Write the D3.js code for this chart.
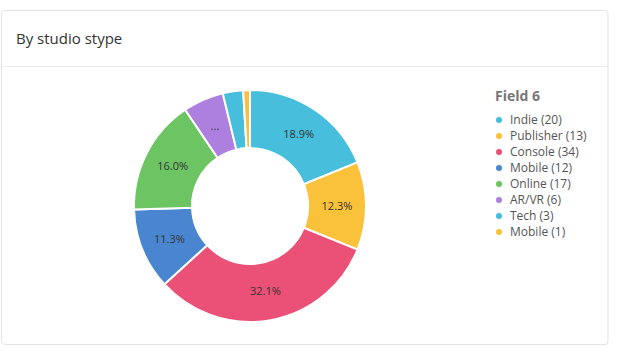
<!DOCTYPE html>
<html><head><meta charset="utf-8">
<script src="https://cdn.jsdelivr.net/npm/d3@7"></script>
<style>
body{margin:0;background:#fff;font-family:"Segoe UI","Open Sans","Noto Sans",sans-serif;}
</style></head>
<body><svg id="c" width="618" height="362"></svg>
<script>
const categories = ["Indie","Publisher","Console","Mobile","Online","AR/VR","Tech","Mobile"];
const values = [20,13,34,12,17,6,3,1];
const colors = ["#47BEDC","#FAC23A","#EB5076","#4A86CF","#6CC462","#AD80E0","#47BEDC","#FAC23A"];
const legendTitle = "Field 6";
const title = "By studio stype";

const svg = d3.select("#c");
svg.append("rect").attr("x",1.5).attr("y",10.5).attr("width",606.5).attr("height",334).attr("rx",3)
  .attr("fill","#fff").attr("stroke","#e3e3e3");
svg.append("line").attr("x1",2).attr("x2",608).attr("y1",66.5).attr("y2",66.5).attr("stroke","#eeeeee");
svg.append("text").attr("x",16).attr("y",44).attr("font-size",15).attr("fill","#333").text(title);

const data = categories.map((c,i)=>({cat:c,value:values[i],color:colors[i],i}));
const total = d3.sum(values);
const pie = d3.pie().value(d=>d.value).sort(null);
const arcs = pie(data);
const R = 116, r = 58;
const arc = d3.arc().innerRadius(r).outerRadius(R);
const g = svg.append("g").attr("transform","translate(250,206)");
g.selectAll("path").data(arcs).join("path").attr("d",arc).attr("fill",d=>d.data.color)
  .attr("stroke","#fff").attr("stroke-width",2);
const labelArc = d3.arc().innerRadius((R+r)/2).outerRadius((R+r)/2);
g.selectAll("text").data(arcs.filter(d=>d.data.value>=5)).join("text")
  .attr("transform",d=>`translate(${labelArc.centroid(d)})`)
  .attr("text-anchor","middle").attr("dy","0.35em").attr("font-size",11).attr("fill","#333")
  .text(d=> d.data.value/total < 0.08 ? "..." : (d.data.value/total*100).toFixed(1)+"%");

const lg = svg.append("g").attr("transform","translate(495,0)");
lg.append("text").attr("x",0).attr("y",101).attr("font-size",14).attr("font-weight","bold").attr("fill","#777").text(legendTitle);
const y = d3.scaleLinear().domain([0,1]).range([120,136]);
const it = lg.selectAll("g.it").data(data).join("g").attr("class","it").attr("transform",(d,i)=>`translate(0,${y(i)})`);
it.append("circle").attr("cx",4).attr("cy",0).attr("r",3).attr("fill",d=>d.color);
it.append("text").attr("x",15).attr("dy","0.35em").attr("font-size",12).attr("fill","#555").text(d=>`${d.cat} (${d.value})`);
</script></body></html>
